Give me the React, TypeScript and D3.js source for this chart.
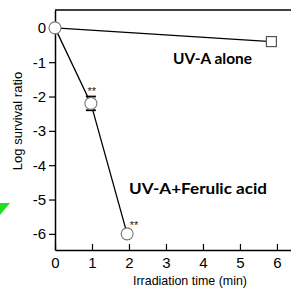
import React, { useEffect, useRef } from 'react';
import * as d3 from 'd3';

// Data
const uvaTime = [0, 5.85];
const uvaLog = [0, -0.4];
const ferulicTime = [0, 0.97, 1.95];
const ferulicLog = [0, -2.2, -6.0];
const ferulicErr = [0, 0.2, 0];
const ferulicSig = ['', '**', '**'];
const xTicks = [0, 1, 2, 3, 4, 5, 6];
const yTicks = [0, -1, -2, -3, -4, -5, -6];

const SANS = 'Liberation Sans, Arial, sans-serif';
const BOLD = 'Lato, Open Sans, sans-serif';

const App = () => {
  const svgRef = useRef(null);

  useEffect(() => {
    if (!svgRef.current) return;
    const svg = d3.select(svgRef.current);
    svg.selectAll('*').remove();

    const left = 55, right = 291, top = 10, bottom = 250;

    const x = d3.scaleLinear().domain([0, 6.38]).range([left, right]);
    const y = d3.scaleLinear().domain([-6.47, 0.52]).range([bottom, top]);

    // stray green triangle at left edge
    svg.append('polygon')
      .attr('points', '0,203 10,203 0,215')
      .attr('fill', '#22dd22');

    // top frame line
    svg.append('line')
      .attr('x1', left).attr('x2', right)
      .attr('y1', top).attr('y2', top)
      .attr('stroke', '#000').attr('stroke-width', 1.5);

    // x axis (ticks inward)
    const gx = svg.append('g')
      .attr('transform', `translate(0,${bottom})`)
      .call(d3.axisBottom(x).tickValues(xTicks).tickSize(-6).tickPadding(7).tickSizeOuter(0)
        .tickFormat(d3.format('d')));
    gx.select('.domain').attr('stroke-width', 1.5);
    gx.selectAll('line').attr('stroke-width', 1.2);
    gx.selectAll('text').attr('font-family', SANS).attr('font-size', 15).attr('fill', '#000');

    // y axis (ticks outward)
    const gy = svg.append('g')
      .attr('transform', `translate(${left},0)`)
      .call(d3.axisLeft(y).tickValues(yTicks).tickSize(6).tickPadding(3).tickSizeOuter(0)
        .tickFormat(d => d3.format('d')(d).replace('−', '-')));
    gy.select('.domain').attr('stroke-width', 1.5);
    gy.selectAll('line').attr('stroke-width', 1.2);
    gy.selectAll('text').attr('font-family', SANS).attr('font-size', 15).attr('fill', '#000');

    const line = d3.line().x(d => x(d[0])).y(d => y(d[1]));

    const uva = uvaTime.map((t, i) => [t, uvaLog[i]]);
    const fer = ferulicTime.map((t, i) => [t, ferulicLog[i]]);

    svg.append('path').datum(uva).attr('d', line)
      .attr('fill', 'none').attr('stroke', '#000').attr('stroke-width', 1.3);
    svg.append('path').datum(fer).attr('d', line)
      .attr('fill', 'none').attr('stroke', '#000').attr('stroke-width', 1.3);

    // error bars
    ferulicTime.forEach((t, i) => {
      const e = ferulicErr[i];
      if (!e) return;
      const cx = x(t);
      const y1 = y(ferulicLog[i] + e), y2 = y(ferulicLog[i] - e);
      svg.append('line').attr('x1', cx).attr('x2', cx).attr('y1', y1).attr('y2', y2)
        .attr('stroke', '#000').attr('stroke-width', 1.3);
      [y1, y2].forEach(yy => {
        svg.append('line').attr('x1', cx - 5).attr('x2', cx + 5).attr('y1', yy).attr('y2', yy)
          .attr('stroke', '#000').attr('stroke-width', 1.8);
      });
    });

    // square markers (UV-A alone), first overlaps the shared circle
    svg.selectAll('.sq').data(uva.slice(1)).join('rect')
      .attr('x', d => x(d[0]) - 5).attr('y', d => y(d[1]) - 5)
      .attr('width', 10).attr('height', 10)
      .attr('fill', '#fff').attr('stroke', '#555').attr('stroke-width', 1.2);

    // circle markers
    svg.selectAll('.ci').data(fer).join('circle')
      .attr('cx', d => x(d[0])).attr('cy', d => y(d[1])).attr('r', 6)
      .attr('fill', '#fff').attr('stroke', '#777').attr('stroke-width', 1.1);

    // significance stars
    fer.forEach((d, i) => {
      if (!ferulicSig[i]) return;
      svg.append('text')
        .attr('x', x(d[0]) + (i === 1 ? 1 : 7)).attr('y', y(d[1]) - (i === 1 ? 8 : 5))
        .attr('text-anchor', 'middle')
        .attr('font-family', SANS).attr('font-size', 11).attr('fill', '#222')
        .text(ferulicSig[i]);
    });

    // series labels
    svg.append('text').attr('x', 173).attr('y', 64)
      .attr('textLength', 79).attr('lengthAdjust', 'spacingAndGlyphs')
      .attr('font-family', BOLD).attr('font-weight', 'bold').attr('font-size', 15.5)
      .text('UV-A alone');
    svg.append('text').attr('x', 129).attr('y', 194)
      .attr('textLength', 138).attr('lengthAdjust', 'spacingAndGlyphs')
      .attr('font-family', BOLD).attr('font-weight', 'bold').attr('font-size', 15.5)
      .text('UV-A+Ferulic acid');

    // axis titles
    svg.append('text').attr('x', 133).attr('y', 285)
      .attr('textLength', 114).attr('lengthAdjust', 'spacingAndGlyphs')
      .attr('font-family', SANS).attr('font-size', 13.5)
      .text('Irradiation time (min)');
    svg.append('text').attr('transform', 'translate(22,121) rotate(-90)').attr('text-anchor', 'middle')
      .attr('font-family', SANS).attr('font-size', 13)
      .text('Log survival ratio');
  }, []);

  return (
    <div style={{ position: 'absolute', left: 0, top: 0 }}>
      <svg ref={svgRef} width={291} height={288} style={{ display: 'block', background: '#fff' }}></svg>
    </div>
  );
};

export default App;
